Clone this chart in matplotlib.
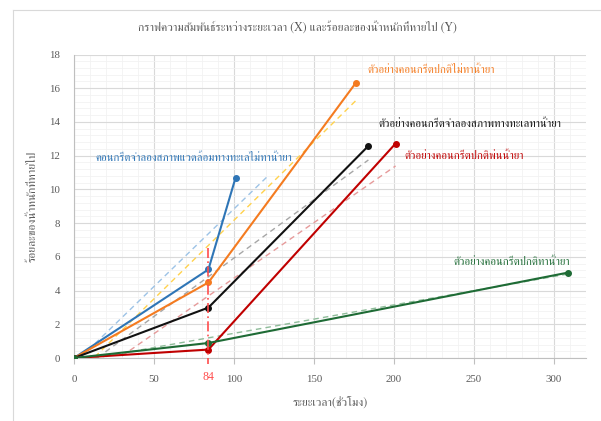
import numpy as np
import matplotlib
matplotlib.use("Agg")
import matplotlib.pyplot as plt
from matplotlib.lines import Line2D

# ---- data ----
times_blue = [0, 84, 101]
vals_blue = [0, 5.25, 10.7]
times_orange = [0, 84, 176]
vals_orange = [0, 4.48, 16.3]
times_black = [0, 84, 184]
vals_black = [0, 2.99, 12.58]
times_red = [0, 84, 201]
vals_red = [0, 0.50, 12.72]
times_green = [0, 84, 309]
vals_green = [0, 0.89, 5.07]

labels = [
    "คอนกรีตจำลองสภาพแวดล้อมทางทะเลไม่ทาน้ำยา",
    "ตัวอย่างคอนกรีตปกติไม่ทาน้ำยา",
    "ตัวอย่างคอนกรีตจำลองสภาพทางทะเลทาน้ำยา",
    "ตัวอย่างคอนกรีตปกติพ่นน้ำยา",
    "ตัวอย่างคอนกรีตปกติทาน้ำยา",
]
title = "กราฟความสัมพันธ์ระหว่างระยะเวลา (X) และร้อยละของน้ำหนักที่หายไป (Y)"
xlabel = "ระยะเวลา(ชั่วโมง)"
ylabel = "ร้อยละของน้ำหนักที่หายไป"
marker_time = 84
x_ticks = [0, 50, 100, 150, 200, 250, 300]
y_ticks = [0, 2, 4, 6, 8, 10, 12, 14, 16, 18]

series = [
    (times_blue, vals_blue, "#2E75B6", "#9DC3E6", 20),
    (times_orange, vals_orange, "#F47B20", "#FFD24D", 0),
    (times_black, vals_black, "#111111", "#A6A6A6", 0),
    (times_red, vals_red, "#C00000", "#E69A9A", 0),
    (times_green, vals_green, "#1E6B35", "#8FBC9A", 0),
]
label_colors = ["#2E75B6", "#F47B20", "#111111", "#C00000", "#1E6B35"]

fig = plt.figure(figsize=(6.01, 4.21), dpi=100)
ax = fig.add_axes([74/601, 1-358/421, (586-74)/601, (358-54.5)/421])

serif = ["Liberation Serif", "DejaVu Serif"]
tfam = ["FreeSerif", "DejaVu Serif"]

for xs, ys, c, tc, fwd in series:
    k, b = np.polyfit(xs, ys, 1)
    tx = np.array([min(xs), max(xs) + fwd])
    ax.plot(tx, k * tx + b, color=tc, lw=1.0, ls=(0, (4, 3)), zorder=2)
for xs, ys, c, tc, fwd in series:
    ax.plot(xs, ys, color=c, lw=1.5, marker="o", ms=4, zorder=3)

ax.plot([marker_time, marker_time], [6.5, -0.35], color="#FF4D4D", lw=1.2,
        ls=(0, (6, 2, 1, 2)), clip_on=False, zorder=4)

ax.set_xlim(0, 320)
ax.set_ylim(0, 18)
ax.set_xticks(x_ticks)
ax.set_yticks(y_ticks)
ax.set_xticks(np.arange(0, 321, 10), minor=True)
ax.set_yticks(np.arange(0, 18.01, 0.4), minor=True)
ax.grid(True, which="major", color="#D9D9D9", lw=0.8)
ax.grid(True, which="minor", color="#F2F2F2", lw=0.6)
ax.set_axisbelow(True)
for s in ["top", "right"]:
    ax.spines[s].set_visible(False)
for s in ["left", "bottom"]:
    ax.spines[s].set_color("#BFBFBF")
ax.tick_params(which="both", length=0, colors="#595959", labelsize=7.8, pad=10)
ax.tick_params(axis="x", which="major", length=4, color="#BFBFBF", pad=8)
for t in ax.get_xticklabels() + ax.get_yticklabels():
    t.set_fontfamily(serif)

ax.text(marker_time, -1.1, str(marker_time), color="#FF4D4D", fontsize=8.5,
        family=serif, ha="center", va="center")

fig.text(297/601, 1-27/421, title, ha="center", va="center", fontsize=8.5,
         color="#595959", family=tfam)
fig.text(330/601, 1-403/421, xlabel, ha="center", va="center", fontsize=8.5,
         color="#595959", family=tfam)
fig.text(33/601, 1-206/421, ylabel, ha="center", va="center", fontsize=8.5,
         color="#595959", family=tfam, rotation=90)

label_pos = [(95, 158), (367, 70), (378, 124), (404, 156), (453, 262)]
for lab, col, (px, py) in zip(labels, label_colors, label_pos):
    fig.text(px/601, 1-py/421, lab, color=col, fontsize=8, family=tfam,
             ha="left", va="center")

fig.add_artist(Line2D([12.5/601, 12.5/601], [0, 1-9.5/421], color="#D9D9D9", lw=0.8))
fig.add_artist(Line2D([12.5/601, 1], [1-9.5/421, 1-9.5/421], color="#D9D9D9", lw=0.8))

fig.savefig("out.png", dpi=100)
